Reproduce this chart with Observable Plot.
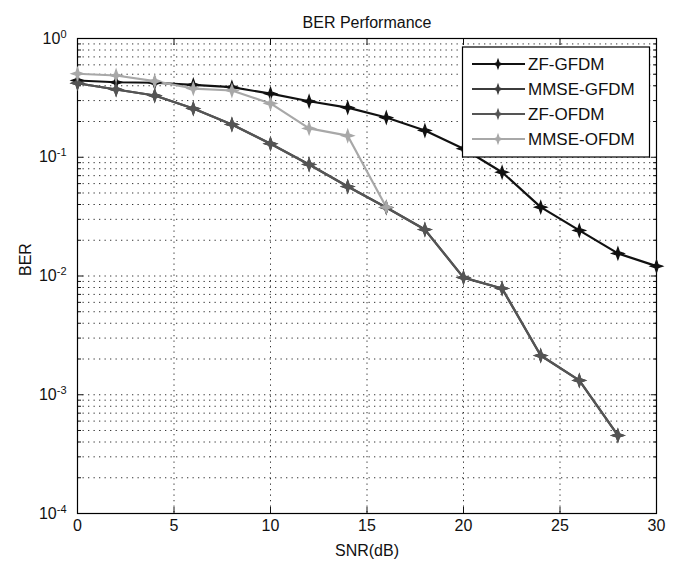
<!DOCTYPE html>
<html>
<head>
<meta charset="utf-8">
<script src="https://cdn.jsdelivr.net/npm/d3@7"></script>
<script src="https://cdn.jsdelivr.net/npm/@observablehq/plot@0.6"></script>
<style>
  html, body { margin: 0; padding: 0; background: #fff; }
  #wrap { position: relative; width: 683px; height: 565px; font-family: "Liberation Sans", Arial, sans-serif; }
  #legend { position: absolute; left: 0; top: 0; }
</style>
</head>
<body>
<div id="wrap"></div>
<script>
// ---- data ----
const snr = [0, 2, 4, 6, 8, 10, 12, 14, 16, 18, 20, 22, 24, 26, 28, 30];
const zfGfdm   = [0.443, 0.428, 0.424, 0.407, 0.389, 0.343, 0.296, 0.262, 0.216, 0.168, 0.118, 0.0748, 0.038, 0.0242, 0.0155, 0.0121];
const mmseGfdm = [0.42, 0.372, 0.331, 0.257, 0.189, 0.130, 0.0869, 0.0567, 0.0377, 0.0246, 0.0097, 0.00785, 0.00214, 0.00132, 0.000454];
const zfOfdm   = [0.42, 0.372, 0.331, 0.257, 0.189, 0.130, 0.0869, 0.0567, 0.0377, 0.0246, 0.0097, 0.00785, 0.00214, 0.00132, 0.000454];
const mmseOfdm = [0.505, 0.488, 0.437, 0.379, 0.365, 0.284, 0.175, 0.152, 0.038];
const seriesNames = ["ZF-GFDM", "MMSE-GFDM", "ZF-OFDM", "MMSE-OFDM"];
const seriesColors = ["#111111", "#3c3c3c", "#555555", "#a8a8a8"];
const xTicks = [0, 5, 10, 15, 20, 25, 30];
const yMajor = [1e-4, 1e-3, 1e-2, 1e-1, 1];
const titleText = "BER Performance";
const xLabel = "SNR(dB)";
const yLabel = "BER";

// ---- build table ----
const allSeries = [zfGfdm, mmseGfdm, zfOfdm, mmseOfdm];
const rows = [];
allSeries.forEach((vals, si) => vals.forEach((v, i) => rows.push({series: seriesNames[si], snr: snr[i], ber: v})));
const yMinor = [];
for (let e = -4; e < 0; e++) for (let m = 2; m <= 9; m++) yMinor.push(m * Math.pow(10, e));

// four-pointed star marker
const star4 = {
  draw(context, size) {
    const R = Math.sqrt(size) * 0.75, r = R * 0.36;
    for (let k = 0; k < 8; k++) {
      const a = k * Math.PI / 4 - Math.PI / 2;
      const rr = k % 2 === 0 ? R : r;
      const px = rr * Math.cos(a), py = rr * Math.sin(a);
      if (k === 0) context.moveTo(px, py); else context.lineTo(px, py);
    }
    context.closePath();
  }
};

const font = '"Liberation Sans", Arial, sans-serif';
const dotted = {stroke: "#000", strokeOpacity: 0.8, strokeWidth: 1, strokeDasharray: "1.3,4.2"};

const marks = [
  Plot.gridX(xTicks.filter(d => d > 0 && d < 30), dotted),
  Plot.gridY([...yMinor, ...yMajor.filter(d => d > 1e-4 && d < 1)], dotted),
  // inward ticks
  Plot.axisX(xTicks, {anchor: "bottom", tickSize: -6, tickFormat: () => "", label: null}),
  Plot.axisX(xTicks, {anchor: "top", tickSize: -6, tickFormat: () => "", label: null}),
  Plot.axisY(yMajor, {anchor: "left", tickSize: -6, tickFormat: () => "", label: null}),
  Plot.axisY(yMajor, {anchor: "right", tickSize: -6, tickFormat: () => "", label: null}),
  Plot.axisY(yMinor, {anchor: "left", tickSize: -4, tickFormat: () => "", label: null}),
  Plot.axisY(yMinor, {anchor: "right", tickSize: -4, tickFormat: () => "", label: null}),
  // labels
  Plot.axisX(xTicks, {anchor: "bottom", tickSize: 0, tickPadding: 6, label: null, tickFormat: d => "x" + d}),
  Plot.axisY(yMajor, {anchor: "left", tickSize: 0, tickPadding: 11, label: null, tickFormat: d => "10^" + Math.round(Math.log10(d))}),
  Plot.frame({stroke: "#000", strokeWidth: 1.2}),
  // series lines (drawn in order)
  ...seriesNames.map((name, i) =>
    Plot.line(rows.filter(r => r.series === name), {x: "snr", y: "ber", stroke: seriesColors[i], strokeWidth: 2.2})),
  ...seriesNames.map((name, i) =>
    Plot.dot(rows.filter(r => r.series === name), {x: "snr", y: "ber", symbol: star4, r: 4.6, fill: seriesColors[i], stroke: seriesColors[i], strokeWidth: 1.2})),
  // text labels
  Plot.text([titleText], {frameAnchor: "top", dy: -22, fill: "#111"}),
  Plot.text([xLabel], {frameAnchor: "bottom", dy: 42, fill: "#111"}),
  Plot.text([yLabel], {frameAnchor: "left", dx: -52, rotate: -90, fill: "#111"})
];

const chart = Plot.plot({
  width: 683,
  height: 565,
  marginLeft: 77,
  marginRight: 27,
  marginTop: 38,
  marginBottom: 52,
  style: {fontFamily: font, color: "#111", background: "#fff"},
  x: {domain: [0, 30]},
  y: {type: "log", domain: [1e-4, 1]},
  marks
});

const svg = d3.select(chart);
svg.selectAll("text").each(function() {
  const t = d3.select(this);
  const s = t.text();
  const m = /^10\^(-?\d+)$/.exec(s);
  if (m) {
    t.text("");
    t.style("font-size", "16px").style("font-family", font);
    t.append("tspan").text("10");
    t.append("tspan").attr("dy", "-0.55em").style("font-size", "11px").text(m[1]);
  } else if (/^x\d+$/.test(s)) {
    t.text(s.slice(1)).style("font-size", "16px").style("font-family", font);
  } else if (s === titleText) {
    t.style("font-size", "16px").style("font-family", font);
  } else if (s === xLabel || s === yLabel) {
    t.style("font-size", "16px").style("font-family", font);
  }
});

document.getElementById("wrap").appendChild(chart);

// ---- legend ----
const lg = d3.select("#wrap").append("svg").attr("id", "legend").attr("width", 683).attr("height", 565);
const box = {x: 462.5, y: 47, w: 187, h: 110};
lg.append("rect").attr("x", box.x).attr("y", box.y).attr("width", box.w).attr("height", box.h)
  .attr("fill", "#fff").attr("stroke", "#000").attr("stroke-width", 1.2);
const starPath = d3.symbol(star4, 36)();
seriesNames.forEach((name, i) => {
  const cy = 64 + i * 25;
  const g = lg.append("g");
  g.append("line").attr("x1", 472).attr("x2", 525).attr("y1", cy).attr("y2", cy)
    .attr("stroke", seriesColors[i]).attr("stroke-width", 2.2);
  g.append("path").attr("d", starPath).attr("transform", `translate(498,${cy})`)
    .attr("fill", seriesColors[i]).attr("stroke", seriesColors[i]).attr("stroke-width", 1.2);
  g.append("text").attr("x", 528).attr("y", cy).attr("dy", "0.36em")
    .attr("font-family", font).attr("font-size", 17).attr("fill", "#111").text(name);
});
</script>
</body>
</html>
